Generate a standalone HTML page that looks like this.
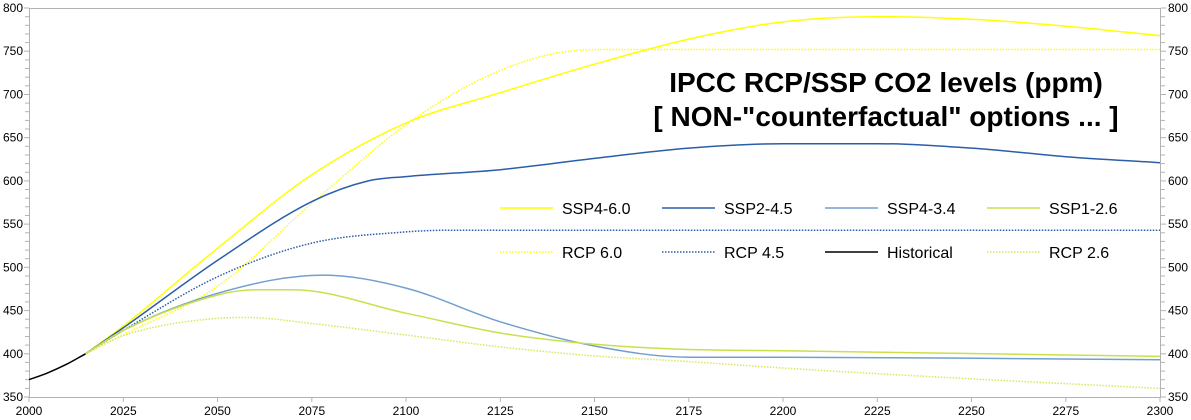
<!DOCTYPE html>
<html><head><meta charset="utf-8"><style>
body{margin:0;background:#fff;}
svg{display:block;font-family:"Liberation Sans",sans-serif;}
</style></head><body>
<svg id="s" width="1191" height="420" xmlns="http://www.w3.org/2000/svg">
<g stroke="#b3b3b3" stroke-width="1" fill="none">
<line x1="29.5" y1="8" x2="29.5" y2="397"/>
<line x1="1160.5" y1="8" x2="1160.5" y2="397"/>
<line x1="29" y1="8.5" x2="1161" y2="8.5"/>
<line x1="29" y1="397.5" x2="1161" y2="397.5"/>
<g id="ticks"></g>
</g>
<g font-size="12" fill="#000" id="labels"></g>
<g fill="none" stroke-width="1.5" stroke-linejoin="round" id="curves"></g>
<g font-weight="bold" font-size="28" text-anchor="middle" fill="#000">
<text x="886" y="92">IPCC RCP/SSP CO2 levels (ppm)</text>
<text x="886" y="126">[ NON-"counterfactual" options ... ]</text>
</g>
<g font-size="16" fill="#000">
<line x1="500" y1="208" x2="553" y2="208" stroke="#ffff00" stroke-width="1.5"/><text x="562" y="214">SSP4-6.0</text>
<line x1="662" y1="208" x2="715" y2="208" stroke="#2a5ea8" stroke-width="1.5"/><text x="724" y="214">SSP2-4.5</text>
<line x1="825" y1="208" x2="878" y2="208" stroke="#729fcf" stroke-width="1.5"/><text x="887" y="214">SSP4-3.4</text>
<line x1="987" y1="208" x2="1040" y2="208" stroke="#c9e04a" stroke-width="1.5"/><text x="1049" y="214">SSP1-2.6</text>
<line x1="500" y1="252" x2="553" y2="252" stroke="#ffff00" stroke-width="1.5" stroke-dasharray="1.5,1.5"/><text x="562" y="258">RCP 6.0</text>
<line x1="662" y1="252" x2="715" y2="252" stroke="#2a5ea8" stroke-width="1.5" stroke-dasharray="1.5,1.5"/><text x="724" y="258">RCP 4.5</text>
<line x1="825" y1="252" x2="878" y2="252" stroke="#000" stroke-width="1.5"/><text x="887" y="258">Historical</text>
<line x1="987" y1="252" x2="1040" y2="252" stroke="#d8e85a" stroke-width="1.5" stroke-dasharray="1.5,1.5"/><text x="1049" y="258">RCP 2.6</text>
</g>
</svg>
<script>
const X=y=>29+(y-2000)*3.77, Y=v=>397-(v-350)*0.8644;
let t="",l="";
for(let v=350;v<=800;v+=10){const y=Y(v).toFixed(1);const big=v%50==0;
t+=`<line x1="${big?24:25}" y1="${y}" x2="29" y2="${y}"/><line x1="1161" y1="${y}" x2="${big?1166:1165}" y2="${y}"/>`;
if(big){l+=`<text x="23" y="${+y+4}" text-anchor="end">${v}</text><text x="1168" y="${+y+4}">${v}</text>`;}}
for(let yr=2000;yr<=2300;yr+=25){const x=X(yr).toFixed(1);t+=`<line x1="${x}" y1="397" x2="${x}" y2="402"/>`;l+=`<text x="${x}" y="415" text-anchor="middle">${yr}</text>`;}
document.getElementById("ticks").innerHTML=t;document.getElementById("labels").innerHTML=l;
function mono(p){const n=p.length,x=p.map(a=>a[0]),y=p.map(a=>a[1]);const d=[],m=[];
for(let i=0;i<n-1;i++)d.push((y[i+1]-y[i])/(x[i+1]-x[i]));
m[0]=d[0];m[n-1]=d[n-2];
for(let i=1;i<n-1;i++){m[i]=(d[i-1]*d[i]<=0)?0:(d[i-1]+d[i])/2;}
for(let i=0;i<n-1;i++){if(d[i]==0){m[i]=0;m[i+1]=0;continue;}const a=m[i]/d[i],b=m[i+1]/d[i],s=a*a+b*b;if(s>9){const tt=3/Math.sqrt(s);m[i]=tt*a*d[i];m[i+1]=tt*b*d[i];}}
let s=`M${X(x[0]).toFixed(1)},${Y(y[0]).toFixed(1)}`;
for(let i=0;i<n-1;i++){const h=(x[i+1]-x[i])/3;
s+=` C${X(x[i]+h).toFixed(1)},${Y(y[i]+m[i]*h).toFixed(1)} ${X(x[i+1]-h).toFixed(1)},${Y(y[i+1]-m[i+1]*h).toFixed(1)} ${X(x[i+1]).toFixed(1)},${Y(y[i+1]).toFixed(1)}`;}
return s;}
const S=[
["#ffff00","",[[2015,400],[2025,432],[2050,522],[2075,607],[2100,667],[2125,702],[2150,735],[2175,764],[2200,784],[2225,790],[2250,787],[2275,779],[2300,768]]],
["#ffff00","1.5,1.5",[[2015,400],[2025,422],[2050,478],[2075,574],[2100,665],[2120,718],[2140,748],[2155,752],[2300,752]]],
["#2a5ea8","",[[2015,400],[2025,430],[2050,508],[2075,576],[2090,600],[2100,605],[2125,613],[2150,626],[2175,638],[2200,643],[2225,643],[2250,638],[2275,628],[2300,621]]],
["#2a5ea8","1.5,1.5",[[2015,400],[2025,427],[2050,489],[2075,528],[2100,541],[2112,543],[2300,543]]],
["#729fcf","",[[2015,400],[2025,427],[2050,470],[2078,491],[2100,476],[2125,437],[2150,409],[2175,396],[2200,396],[2300,393]]],
["#c9e04a","",[[2015,400],[2025,427],[2050,468],[2060,474],[2070,474],[2100,447],[2125,424],[2150,411],[2175,405],[2200,403.5],[2300,397]]],
["#d8e85a","1.5,1.5",[[2015,400],[2025,421],[2050,441],[2058,442],[2075,435],[2100,421.7],[2125,408],[2150,397.5],[2175,391],[2200,383.5],[2250,371],[2300,360]]],
["#000","",[[2000,370],[2005,378],[2010,388],[2015,400]]]];
let h="";for(const [c,da,p] of S){h+=`<path d="${mono(p)}" stroke="${c}" ${da?`stroke-dasharray="${da}"`:""}/>`;}
document.getElementById("curves").innerHTML=h;
</script>
</body></html>
